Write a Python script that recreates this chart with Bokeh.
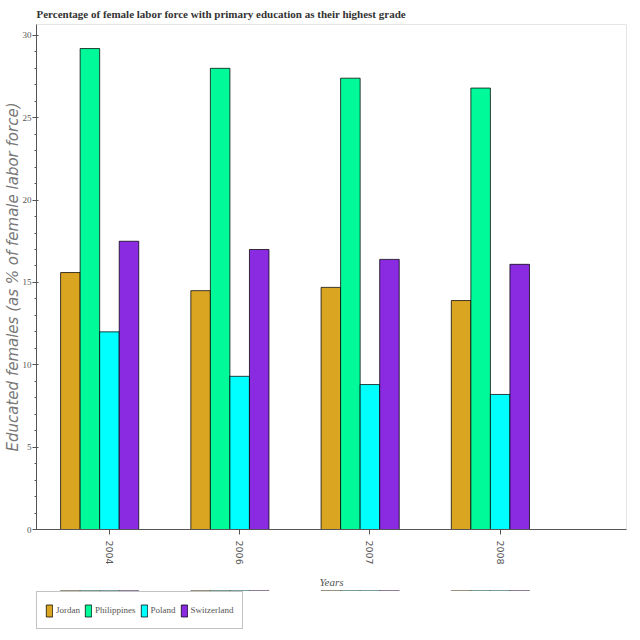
import math
from bokeh.plotting import figure
from bokeh.layouts import column
from bokeh.models import ColumnDataSource, Range1d, DataRange1d, FixedTicker, Legend, LegendItem
from bokeh.embed import file_html
from bokeh.resources import INLINE

# ---- data ----
years = ["2004", "2006", "2007", "2008"]
countries = ["Jordan", "Philippines", "Poland", "Switzerland"]
jordan = [15.6, 14.5, 14.7, 13.9]
philippines = [29.2, 28.0, 27.4, 26.8]
poland = [12.0, 9.3, 8.8, 8.2]
switzerland = [17.5, 17.0, 16.4, 16.1]
series = [jordan, philippines, poland, switzerland]

colors = ["#DAA520", "#00FA9A", "#00FFFF", "#8A2BE2"]
offsets = [-0.3, -0.15, 0.0, 0.15]
bar_width = 0.15

centers = [i + 0.5 for i in range(len(years))]
sources = [ColumnDataSource(dict(x=[c + off for c in centers], top=vals))
           for vals, off in zip(series, offsets)]

p = figure(width=632, height=590, output_backend="svg", toolbar_location=None,
           x_range=Range1d(-0.06, 4.47), y_range=DataRange1d(start=0),
           title="Percentage of female labor force with primary education as their highest grade")

p.min_border_left = 4
p.min_border_right = 6
p.min_border_top = 24
p.min_border_bottom = 0

for src, col in zip(sources, colors):
    p.vbar(x="x", top="top", width=bar_width, bottom=0, source=src,
           fill_color=col, line_color="black", line_alpha=0.75, line_width=1)

# title
p.title.text_font = "Liberation Serif"
p.title.text_font_style = "bold"
p.title.text_font_size = "11px"
p.title.text_color = "#333333"
p.title.align = "left"

p.xgrid.visible = False
p.ygrid.visible = False
p.outline_line_color = "#e5e5e5"
p.background_fill_color = "white"

# x axis
xa = p.xaxis[0]
xa.ticker = FixedTicker(ticks=centers, minor_ticks=[])
xa.major_label_overrides = {c: y for c, y in zip(centers, years)}
xa.major_label_orientation = -math.pi / 2
xa.major_label_text_font = "DejaVu Sans"
xa.major_label_text_font_size = "9.5px"
xa.major_label_text_color = "#555555"
xa.major_label_standoff = 6
xa.major_tick_in = 0
xa.major_tick_out = 5
xa.axis_label = "Years"
xa.axis_label_text_font = "Liberation Serif"
xa.axis_label_text_font_style = "italic"
xa.axis_label_text_font_size = "11px"
xa.axis_label_text_color = "#555555"
xa.axis_label_standoff = 8
xa.axis_line_color = "#555555"
xa.major_tick_line_color = "#555555"

# y axis
ya = p.yaxis[0]
ya.axis_label = "Educated females (as % of female labor force)"
ya.axis_label_text_font = "DejaVu Sans"
ya.axis_label_text_font_style = "italic"
ya.axis_label_text_font_size = "15px"
ya.axis_label_text_color = "#777777"
ya.axis_label_standoff = -2
ya.major_label_text_font = "Liberation Serif"
ya.major_label_text_font_size = "9px"
ya.major_label_text_color = "#555555"
ya.major_label_standoff = 1
ya.major_tick_in = 2
ya.major_tick_out = 4
ya.minor_tick_in = 0
ya.minor_tick_out = 2
ya.axis_line_color = "#555555"
ya.major_tick_line_color = "#555555"
ya.minor_tick_line_color = "#555555"

# ---- legend strip below the chart (same series, bars kept far out of its view) ----
lg = figure(width=632, height=42, output_backend="svg", toolbar_location=None,
            x_range=Range1d(-0.06, 4.47), y_range=Range1d(-1000, -999),
            x_axis_location=None, y_axis_location=None)
lg.min_border = 0
lg.xgrid.visible = False
lg.ygrid.visible = False
lg.outline_line_color = None

items = []
for name, src, col in zip(countries, sources, colors):
    r = lg.vbar(x="x", top="top", width=bar_width, bottom=0, source=src,
                fill_color=col, line_color="black", line_alpha=0.75, line_width=1)
    items.append(LegendItem(label=name, renderers=[r]))

legend = Legend(items=items, orientation="horizontal", location=(0, 3),
                margin=0, padding=8, spacing=4, label_standoff=3,
                glyph_width=8, glyph_height=15, label_height=20,
                label_text_font="Liberation Serif", label_text_font_size="9px",
                label_text_color="#555555",
                border_line_color="#888888", border_line_width=1,
                background_fill_color="white")
lg.add_layout(legend)

layout = column(p, lg, spacing=0)

open("out.html", "w").write(file_html(layout, INLINE))
